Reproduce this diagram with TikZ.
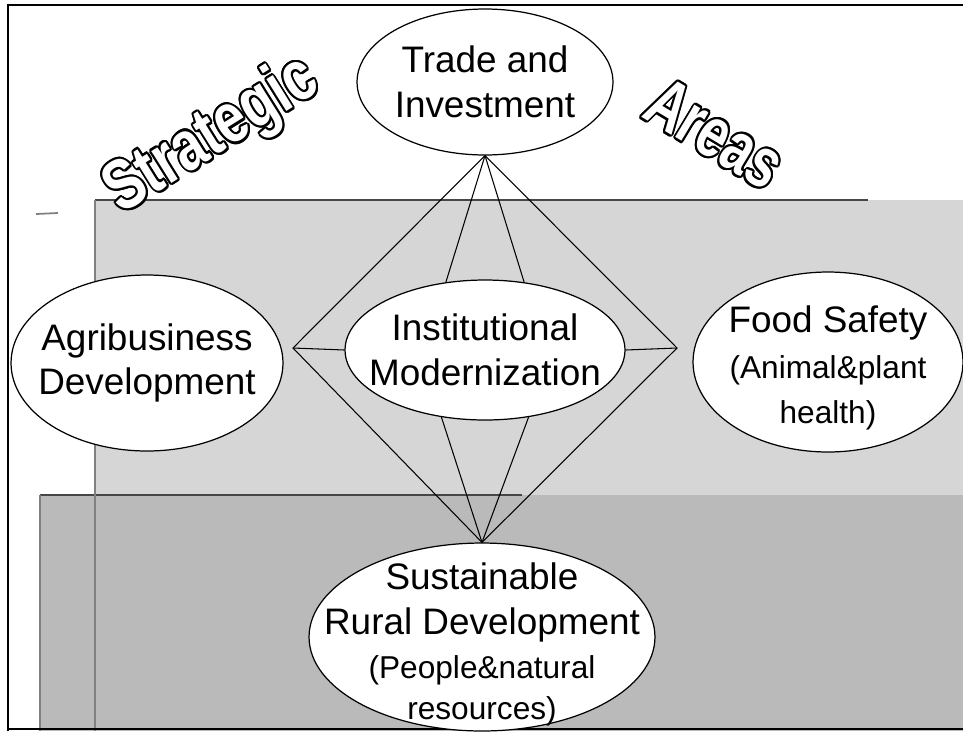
\documentclass[tikz,border=0pt]{standalone}
\usepackage{fontspec}
\setmainfont{Liberation Sans}
\usepackage{graphicx}
\usepackage{contour}
\usetikzlibrary{shapes.geometric}
\definecolor{panellight}{RGB}{214,214,214}
\definecolor{paneldark}{RGB}{186,186,186}
\definecolor{paneledge}{RGB}{70,70,70}
\newcommand{\bigtext}{\fontsize{21}{25.5}\selectfont}
\newcommand{\smalltext}{\fontsize{18}{21}\selectfont}
\contourlength{1pt}
\tikzstyle{areanode} = [draw, ellipse, fill=white, line width=0.7pt, inner sep=-40pt, align=center, font=\bigtext]
\tikzstyle{link} = [line width=0.6pt, black]
\tikzstyle{wordart} = [text=white, inner sep=0pt, anchor=base, font=\fontsize{30}{30}\selectfont\bfseries]

\begin{document}
\begin{tikzpicture}[x=0.02cm, y=-0.02cm]
\useasboundingbox (0,0) rectangle (963,731);

% Shaded panels
\fill[panellight] (95,200) rectangle (963,731);
\fill[paneldark] (40,495) rectangle (963,731);
\draw[paneledge, line width=1.6pt] (95,200) -- (868,200);
\draw[paneledge, line width=1.6pt] (40,495) -- (522,495);
\draw[gray, line width=0.8pt] (95,200) -- (95,731);
\draw[gray, line width=0.8pt] (40,495) -- (40,731);
\draw[gray, line width=1pt] (36,214) -- (58,213);

% Frame
\draw[line width=1.2pt] (8,731) -- (8,5) -- (963,5);
\draw[line width=1.2pt] (8,729) -- (963,729);

% Strategic areas
\node[areanode, minimum width=5.12cm, minimum height=2.92cm] (trade) at (485,82) {Trade and\\Investment};
\node[areanode, minimum width=5.44cm, minimum height=3.52cm] (agri) at (147,363) {Agribusiness\\Development};
\node[areanode, minimum width=5.6cm, minimum height=2.8cm] (inst) at (485,350) {Institutional\\Modernization};
\node[areanode, minimum width=5.4cm, minimum height=3.6cm] (food) at (828,362) {\rule{0pt}{22pt}Food Safety\\[0.7pt]\smalltext (Animal\&plant\\[0pt]\smalltext health)};
\node[areanode, minimum width=6.92cm, minimum height=3.76cm] (sust) at (482,637) {\rule{0pt}{24pt}Sustainable\\Rural Development\\[-0.5pt]\smalltext (People\&natural\\[-2.2pt]\smalltext resources)};

% Apex points
\coordinate (lapex) at (293,348);
\coordinate (rapex) at (677,348);

% Connections
\draw[link] (trade.south) -- (lapex) -- (sust.north);
\draw[link] (trade.south) -- (rapex) -- (sust.north);
\draw[link] (lapex) -- (inst.west);
\draw[link] (rapex) -- (inst.east);
\draw[link] (trade.south) -- (inst.120);
\draw[link] (trade.south) -- (inst.60);
\draw[link] (inst.237) -- (sust.north);
\draw[link] (inst.303) -- (sust.north);

% Title
\node[wordart, rotate=32] (strategic) at (222,152) {\scalebox{1.05}[1.35]{\contour{black}{Strategic}}};
\node[wordart, rotate=-31] (areas) at (703,154) {\scalebox{1}[1.35]{\contour{black}{Areas}}};
\end{tikzpicture}
\end{document}
